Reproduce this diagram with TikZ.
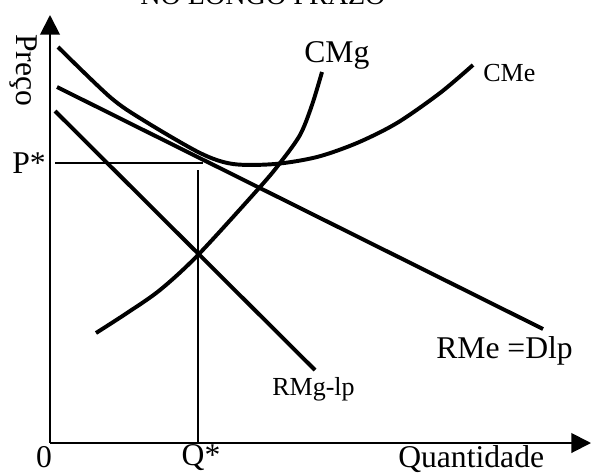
\documentclass[tikz,border=0pt]{standalone}
\usepackage{fontspec}
\setmainfont{Liberation Serif}
\usetikzlibrary{arrows.meta}
\tikzset{
    curve/.style={line width=2.8pt},
    axis/.style={line width=1.4pt,-{Triangle[length=14pt,width=14pt]}},
    big/.style={font=\fontsize{22.5}{26}\selectfont,inner sep=0pt},
    small/.style={font=\fontsize{18.5}{21}\selectfont,inner sep=0pt}
}
\begin{document}
\begin{tikzpicture}[x=0.025cm,y=-0.025cm]
    \useasboundingbox (0,0) rectangle (591,475);
    % eixos
    \coordinate (O) at (50,443);
    \coordinate (ytop) at (50,15);
    \coordinate (xend) at (591,443);
    \draw[axis] (O) -- (ytop);
    \draw[axis] (O) -- (xend);

    \node[font=\fontsize{20}{24}\selectfont,inner sep=0pt,anchor=base west] (titulo) at (140,4) {NO LONGO PRAZO};
    \node[big,rotate=-90,anchor=base west] (preco) at (16,34) {Preço};
    \node[big,anchor=base] (zero) at (44,467) {0};
    \node[big,anchor=base west] (quant) at (398,467) {Quantidade};

    % curvas
    \draw[curve] plot[smooth] coordinates {(58,47) (110,97) (143,120) (200,153) (233,164) (275,164) (317,157) (357,143) (397,123) (440,93) (473,65)};
    \draw[curve] plot[smooth] coordinates {(96,333) (127,313) (160,290) (198,255) (260,187) (280,163) (300,135) (312,105) (322,72)};
    \draw[curve] (57,87) -- (543,329);
    \draw[curve] (55,111) -- (315,370);

    % equilibrio
    \coordinate (pl) at (55,163);
    \coordinate (pr) at (203,163);
    \coordinate (qt) at (198,170);
    \coordinate (qb) at (198,443);
    \draw[line width=1pt] (pl) -- (pr);
    \draw[line width=1pt] (qt) -- (qb);
    \node[big,anchor=base east] (pstar) at (46,173) {P*};
    \node[big,anchor=base] (qstar) at (201,465) {Q*};

    \node[big,anchor=base west] (cmg) at (304,62) {CMg};
    \node[small,anchor=base west] (cme) at (483,81) {CMe};
    \node[small,anchor=base west] (rmg) at (272,395) {RMg-lp};
    \node[big,anchor=base west] (rme) at (436,358) {RMe =Dlp};
\end{tikzpicture}
\end{document}
